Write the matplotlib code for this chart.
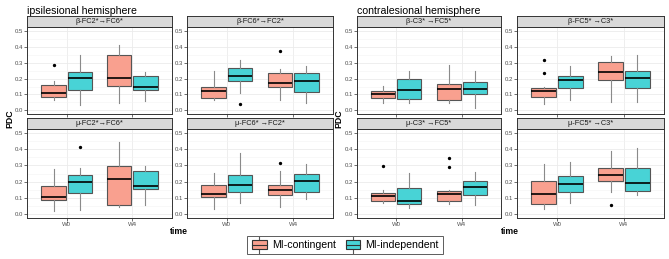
import matplotlib
matplotlib.use("Agg")
import matplotlib.pyplot as plt
from matplotlib.patches import Rectangle
from matplotlib.lines import Line2D
from matplotlib.legend_handler import HandlerBase

plt.rcParams['font.family'] = ['Liberation Sans', 'DejaVu Sans']

# ---------------- data ----------------
groups = ["MI-contingent", "MI-independent"]
times = ["W0", "W4"]
panel_titles = [
    ["β-FC2*→FC6*", "β-FC6*→FC2*", "β-C3* →FC5*", "β-FC5* →C3*"],
    ["μ-FC2*→FC6*", "μ-FC6* →FC2*", "μ-C3* →FC5*", "μ-FC5* →C3*"],
]
hemispheres = ["ipsilesional hemisphere", "contralesional hemisphere"]

# each box: (whisker_low, q1, median, q3, whisker_high, [outliers])
# order per panel: W0 contingent, W0 independent, W4 contingent, W4 independent
beta_fc2_fc6 = [
    (0.068, 0.087, 0.108, 0.159, 0.186, [0.288]),
    (0.036, 0.131, 0.205, 0.244, 0.350, []),
    (0.049, 0.153, 0.203, 0.350, 0.413, []),
    (0.059, 0.125, 0.144, 0.216, 0.244, []),
]
beta_fc6_fc2 = [
    (0.064, 0.080, 0.123, 0.148, 0.248, []),
    (0.110, 0.186, 0.216, 0.265, 0.314, [0.042]),
    (0.066, 0.148, 0.172, 0.233, 0.260, [0.371]),
    (0.049, 0.114, 0.186, 0.233, 0.280, []),
]
beta_c3_fc5 = [
    (0.047, 0.078, 0.100, 0.123, 0.155, []),
    (0.049, 0.070, 0.127, 0.200, 0.250, []),
    (0.049, 0.066, 0.133, 0.165, 0.286, []),
    (0.017, 0.102, 0.133, 0.178, 0.246, []),
]
beta_fc5_c3 = [
    (0.038, 0.087, 0.121, 0.140, 0.150, [0.318, 0.235]),
    (0.068, 0.138, 0.193, 0.218, 0.278, []),
    (0.055, 0.191, 0.244, 0.303, 0.345, []),
    (0.051, 0.140, 0.201, 0.248, 0.350, []),
]
mu_fc2_fc6 = [
    (0.015, 0.086, 0.105, 0.171, 0.276, []),
    (0.023, 0.131, 0.198, 0.238, 0.283, [0.416]),
    (0.044, 0.057, 0.215, 0.297, 0.443, []),
    (0.053, 0.152, 0.173, 0.264, 0.297, []),
]
mu_fc6_fc2 = [
    (0.030, 0.101, 0.124, 0.177, 0.251, []),
    (0.065, 0.133, 0.179, 0.238, 0.376, []),
    (0.044, 0.116, 0.146, 0.181, 0.268, [0.316]),
    (0.093, 0.133, 0.205, 0.247, 0.308, []),
]
mu_c3_fc5 = [
    (0.065, 0.080, 0.110, 0.129, 0.150, [0.297]),
    (0.038, 0.061, 0.082, 0.160, 0.251, []),
    (0.061, 0.082, 0.122, 0.143, 0.150, [0.348, 0.293]),
    (0.051, 0.118, 0.169, 0.203, 0.257, []),
]
mu_fc5_c3 = [
    (0.027, 0.059, 0.120, 0.203, 0.310, []),
    (0.065, 0.135, 0.184, 0.236, 0.321, []),
    (0.135, 0.205, 0.238, 0.287, 0.388, [0.057]),
    (0.116, 0.143, 0.194, 0.283, 0.409, []),
]
panel_data = [
    [beta_fc2_fc6, beta_fc6_fc2, beta_c3_fc5, beta_fc5_c3],
    [mu_fc2_fc6, mu_fc6_fc2, mu_c3_fc5, mu_fc5_c3],
]
y_ticks = [0.0, 0.1, 0.2, 0.3, 0.4, 0.5]

# ---------------- style ----------------
fill_colors = ["#F9A08F", "#48D3D6"]
edge_col = "#555555"
whisk_col = "#8A8A8A"
W, H = 669, 259
fig = plt.figure(figsize=(W / 100, H / 100), dpi=100)

col_x = [(27.3, 171.7), (187.0, 333.0), (357.0, 501.0), (517.0, 664.0)]
row_y = [(27.0, 114.3), (129.3, 217.7)]
strip_h = 11.0

def fx(px):
    return px / W

def fy(py):
    return 1 - py / H

tick_fs = 4.3
strip_fs = 5.3
offsets = [-0.2, 0.2]
bw = 0.37

for r in range(2):
    for c in range(4):
        x0, x1 = col_x[c]
        y0, y1 = row_y[r]
        ax = fig.add_axes([fx(x0), fy(y1), fx(x1) - fx(x0), (y1 - y0) / H])
        ax.set_xlim(0.4, 2.6)
        ax.set_ylim(-0.025, 0.525)
        ax.set_yticks(y_ticks)
        ax.set_yticks([0.05, 0.15, 0.25, 0.35, 0.45], minor=True)
        ax.set_xticks([1, 2])
        ax.grid(True, which='major', color="#EBEBEB", lw=0.6)
        ax.grid(True, which='minor', axis='y', color="#F3F3F3", lw=0.4)
        ax.set_axisbelow(True)
        for s in ax.spines.values():
            s.set_color("#333333")
            s.set_linewidth(0.7)
        ax.tick_params(which='minor', length=0)
        ax.tick_params(which='major', length=2, width=0.5, color="#333333",
                       labelsize=tick_fs, labelcolor="#4D4D4D", pad=1)
        ax.set_yticklabels([f"{v:.1f}" for v in y_ticks])
        if r == 1:
            ax.set_xticklabels(times)
        else:
            ax.set_xticklabels([])
        data = panel_data[r][c]
        for ti in range(2):
            for gi in range(2):
                lo, q1, med, q3, hi, outs = data[ti * 2 + gi]
                stats = [dict(whislo=lo, q1=q1, med=med, q3=q3, whishi=hi, fliers=outs)]
                pos = ti + 1 + offsets[gi]
                ax.bxp(stats, positions=[pos], widths=bw, patch_artist=True,
                       showcaps=False, manage_ticks=False,
                       boxprops=dict(facecolor=fill_colors[gi], edgecolor=edge_col, lw=0.8),
                       medianprops=dict(color="black", lw=1.2),
                       whiskerprops=dict(color=whisk_col, lw=0.8),
                       flierprops=dict(marker='o', markersize=1.4, markerfacecolor='black',
                                       markeredgecolor='black', lw=0))
        # strip
        sax = fig.add_axes([fx(x0), fy(y0), fx(x1) - fx(x0), strip_h / H])
        sax.set_xticks([]); sax.set_yticks([])
        sax.set_facecolor("#D9D9D9")
        for s in sax.spines.values():
            s.set_color("#333333")
            s.set_linewidth(0.7)
        sax.text(0.5, 0.5, panel_titles[r][c], ha='center', va='center',
                 fontsize=strip_fs, color="#1A1A1A", transform=sax.transAxes,
                 family=['Liberation Sans', 'DejaVu Sans'])

# hemisphere titles
fig.text(fx(27), fy(10.5), hemispheres[0], fontsize=7.6, va='center', ha='left')
fig.text(fx(357), fy(10.5), hemispheres[1], fontsize=7.6, va='center', ha='left')
# axis labels
for xl, xc in [(10, 179), (339, 510)]:
    fig.text(fx(xl), fy(119), "PDC", rotation=90, fontsize=6.3, fontweight='bold',
             va='center', ha='center')
    fig.text(fx(xc), fy(232), "time", fontsize=6.2, fontweight='bold',
             va='center', ha='center')

# legend
class BoxHandler(HandlerBase):
    def create_artists(self, legend, orig_handle, xdescent, ydescent, width, height, fontsize, trans):
        fc = orig_handle.get_facecolor()
        cx = -xdescent + width / 2
        bw_ = width * 0.85
        bh = height * 1.0
        by = -ydescent
        wl1 = Line2D([cx, cx], [by - height * 0.35, by], color=edge_col, lw=0.8, transform=trans)
        wl2 = Line2D([cx, cx], [by + bh, by + bh + height * 0.35], color=edge_col, lw=0.8, transform=trans)
        rect = Rectangle((cx - bw_ / 2, by), bw_, bh, facecolor=fc, edgecolor="#333333",
                         lw=0.8, transform=trans)
        med = Line2D([cx - bw_ / 2, cx + bw_ / 2], [by + bh / 2, by + bh / 2], color="#333333",
                     lw=0.8, transform=trans)
        return [wl1, wl2, rect, med]

handles = [Rectangle((0, 0), 1, 1, facecolor=fill_colors[i]) for i in range(2)]
leg = fig.legend(handles, groups, loc='center', bbox_to_anchor=(fx(345), fy(245)),
                 ncol=2, fontsize=7.6, frameon=True, fancybox=False,
                 handler_map={Rectangle: BoxHandler()}, handlelength=1.6, handleheight=1.0,
                 handletextpad=0.4, columnspacing=0.8, borderpad=0.35)
leg.get_frame().set_edgecolor("#333333")
leg.get_frame().set_linewidth(0.7)

fig.savefig("out.png", dpi=100)
